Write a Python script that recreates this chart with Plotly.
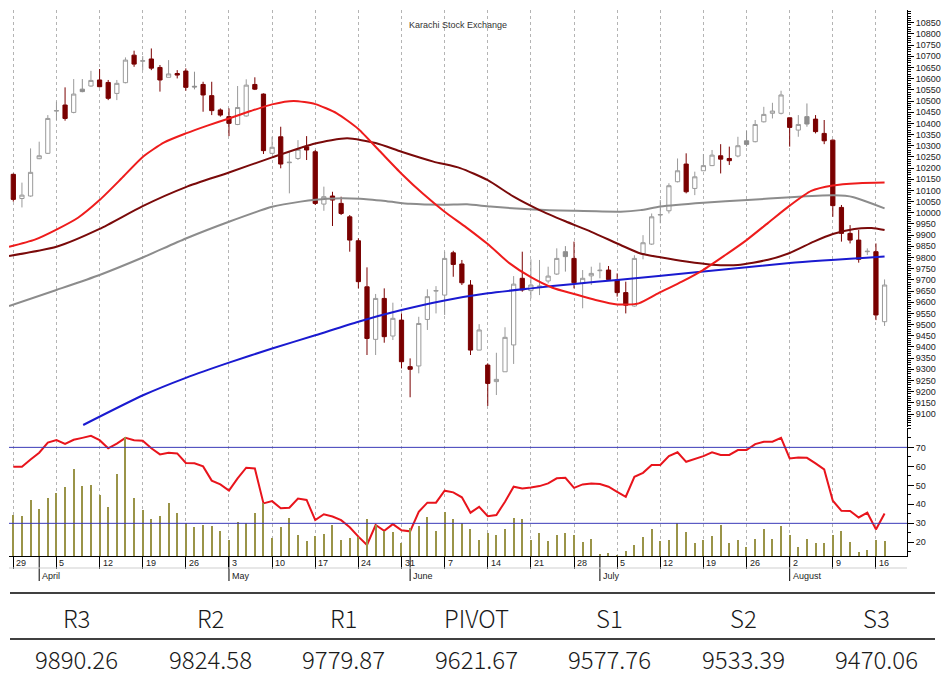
import plotly.graph_objects as go
import pandas as pd

# ---------------- data ----------------
dates = pd.bdate_range("2010-03-29", "2010-08-17")  # 102 trading days

opens = [10172, 10064, 10075, 10242, 10266, 10455, 10482, 10449, 10553, 10567,
         10594, 10583, 10534, 10582, 10705, 10678, 10688, 10650, 10606, 10623,
         10634, 10566, 10574, 10524, 10460, 10430, 10395, 10433, 10574, 10531,
         10266, 10340, 10224, 10243, 10295, 10273, 10039, 10075, 10042, 9982,
         9875, 9669, 9434, 9617, 9449, 9520, 9312, 9315, 9523, 9650,
         9632, 9821, 9771, 9677, 9386, 9319, 9245, 9289, 9409, 9707,
         9652, 9670, 9695, 9726, 9826, 9796, 9684, 9718, 9741, 9744,
         9699, 9643, 9583, 9818, 9860, 9990, 10009, 10139, 10218, 10109,
         10188, 10211, 10255, 10243, 10254, 10322, 10318, 10407, 10445, 10445,
         10425, 10370, 10430, 10419, 10355, 10325, 10024, 9908, 9878, 9826,
         9826, 9513]
highs = [10176, 10135, 10288, 10318, 10437, 10497, 10561, 10598, 10598, 10635,
         10643, 10594, 10594, 10695, 10725, 10701, 10735, 10661, 10683, 10638,
         10646, 10631, 10586, 10586, 10467, 10467, 10567, 10597, 10606, 10534,
         10340, 10385, 10273, 10325, 10343, 10281, 10117, 10094, 10072, 9990,
         9886, 9756, 9637, 9662, 9598, 9550, 9349, 9535, 9658, 9672,
         9826, 9830, 9789, 9699, 9502, 9327, 9374, 9488, 9717, 9826,
         9792, 9789, 9759, 9841, 9851, 9871, 9744, 9759, 9777, 9762,
         9729, 9692, 9810, 9900, 9997, 10057, 10132, 10243, 10266, 10184,
         10263, 10281, 10307, 10296, 10340, 10366, 10415, 10474, 10492, 10546,
         10425, 10437, 10489, 10437, 10415, 10328, 10035, 9945, 9923, 9841,
         9863, 9702]
lows = [10050, 10024, 10072, 10240, 10263, 10415, 10412, 10445, 10539, 10564,
        10561, 10504, 10504, 10579, 10653, 10638, 10638, 10542, 10606, 10601,
        10546, 10552, 10452, 10437, 10430, 10343, 10392, 10430, 10549, 10263,
        10263, 10199, 10087, 10236, 10236, 10035, 10009, 9941, 9990, 9826,
        9662, 9364, 9364, 9419, 9431, 9304, 9175, 9282, 9476, 9550,
        9543, 9714, 9677, 9364, 9386, 9136, 9185, 9289, 9324, 9647,
        9617, 9632, 9684, 9722, 9737, 9662, 9573, 9677, 9707, 9699,
        9625, 9550, 9580, 9792, 9856, 9953, 9997, 10136, 10087, 10079,
        10188, 10209, 10176, 10214, 10248, 10296, 10315, 10404, 10422, 10440,
        10296, 10340, 10385, 10355, 10307, 9982, 9871, 9863, 9777, 9811,
        9520, 9494]
closes = [10060, 10079, 10181, 10255, 10422, 10457, 10422, 10531, 10542, 10592,
          10564, 10512, 10579, 10683, 10665, 10680, 10647, 10594, 10621, 10616,
          10561, 10563, 10527, 10457, 10437, 10400, 10471, 10571, 10553, 10278,
          10293, 10218, 10226, 10284, 10281, 10042, 10072, 10057, 9997, 9878,
          9692, 9438, 9617, 9446, 9528, 9334, 9300, 9505, 9625, 9652,
          9796, 9769, 9687, 9386, 9476, 9237, 9255, 9443, 9681, 9655,
          9677, 9672, 9717, 9796, 9804, 9687, 9707, 9729, 9743, 9702,
          9643, 9587, 9796, 9866, 9982, 9992, 10121, 10188, 10094, 10161,
          10211, 10258, 10240, 10233, 10300, 10306, 10395, 10440, 10455, 10527,
          10382, 10395, 10397, 10363, 10322, 10032, 9908, 9878, 9792, 9828,
          9543, 9677]

volume = [41, 40, 56, 47, 58, 63, 69, 87, 70, 71,
          61, 49, 82, 119, 58, 46, 37, 40, 53, 43,
          33, 29, 31, 30, 25, 16, 34, 33, 43, 53,
          18, 29, 38, 21, 15, 20, 22, 31, 16, 18,
          19, 37, 31, 25, 24, 13, 28, 30, 39, 25,
          44, 37, 33, 27, 16, 23, 21, 27, 38, 37,
          16, 23, 15, 21, 23, 21, 14, 17, 2, 3,
          1, 5, 11, 19, 27, 15, 16, 33, 24, 13,
          16, 20, 31, 13, 16, 9, 17, 27, 17, 30,
          21, 9, 17, 13, 13, 21, 25, 14, 4, 6,
          16, 15]

rsi = [59.8, 59.8, 63.6, 67.2, 72.5, 73.8, 71.8, 74.0, 75.0, 76.1,
       73.8, 69.5, 72.0, 75.0, 73.8, 73.5, 69.5, 66.3, 67.2, 66.8,
       61.8, 61.6, 60.0, 52.5, 50.5, 47.2, 53.7, 59.3, 58.9, 40.5,
       41.7, 37.9, 38.2, 43.1, 42.3, 31.7, 34.8, 33.6, 31.7, 27.9,
       23.0, 18.6, 29.1, 26.1, 29.6, 26.3, 25.8, 36.1, 40.9, 40.9,
       47.2, 46.3, 43.7, 35.6, 38.7, 33.8, 34.4, 41.4, 49.3, 48.4,
       48.9, 49.6, 51.0, 53.7, 54.0, 48.7, 50.5, 51.0, 50.7, 49.3,
       46.6, 44.0, 54.5, 56.6, 60.7, 60.7, 65.4, 67.4, 62.4, 63.7,
       65.4, 67.4, 66.0, 66.0, 68.6, 68.6, 71.7, 73.0, 73.0, 75.0,
       64.2, 64.7, 64.5, 61.6, 58.4, 41.9, 36.6, 36.5, 33.1, 35.6,
       26.8, 35.2]

# moving averages read at sample positions (trading-day index, value)
ma_fast_idx = [-0.5, 2.5, 5, 7.5, 10, 12.5, 15, 17.5, 20, 22.5, 25, 27.5, 30, 32.5,
               35, 37.5, 40, 42.5, 45, 47.5, 50, 52.5, 55, 57.5, 60, 62.5, 65, 67.5,
               70, 72.5, 75, 77.5, 80, 82.5, 85, 87.5, 90, 92.5, 95, 98, 101]
ma_fast_val = [9848, 9880, 9925, 9978, 10057, 10152, 10250, 10315, 10355, 10390,
               10422, 10455, 10485, 10500, 10486, 10445, 10375, 10275, 10175, 10085,
               10005, 9935, 9860, 9775, 9712, 9665, 9637, 9610, 9590, 9595,
               9645, 9692, 9745, 9810, 9878, 9955, 10032, 10098, 10122, 10132, 10135]
ma_mid_idx = [-0.5, 5, 10, 15, 20, 25, 30, 35, 38.7, 42, 45, 48.7, 51.8, 55, 58,
              61, 64, 67, 70.4, 72.7, 75, 78, 81, 84, 87.5, 90, 92.8, 95, 97.5,
              99.5, 101]
ma_mid_val = [9807, 9848, 9928, 10030, 10115, 10180, 10248, 10310, 10333, 10312,
              10273, 10229, 10200, 10146, 10072, 10012, 9962, 9915, 9856, 9818,
              9801, 9782, 9768, 9767, 9790, 9820, 9871, 9905, 9928, 9932, 9923]
ma_slow_idx = [-0.5, 5, 10, 15, 20, 25, 30, 33.3, 36.4, 40.2, 43.3, 46, 49.9, 52.6,
               55.3, 60.3, 64.9, 70.4, 72.7, 75, 80, 85.1, 90.1, 95.1, 97.4, 101]
ma_slow_val = [9583, 9655, 9722, 9800, 9885, 9960, 10027, 10050, 10063, 10063, 10052,
               10040, 10036, 10038, 10028, 10015, 10009, 10005, 10012, 10028, 10045,
               10057, 10070, 10078, 10070, 10020]
ma_long_idx = [8.1, 15.1, 20, 25, 30, 35, 40, 45, 50, 55, 60, 65, 70, 80, 90, 101]
ma_long_val = [9051, 9185, 9262, 9330, 9393, 9452, 9513, 9565, 9608, 9640, 9662,
               9682, 9700, 9737, 9775, 9804]

week_idx = [0, 5, 10, 15, 20, 25, 30, 35, 40, 45, 50, 55, 60, 65, 70, 75, 80, 85, 90, 95, 100]
week_labels = ["29", "5", "12", "19", "26", "3", "10", "17", "24", "31", "7",
               "14", "21", "28", "5", "12", "19", "26", "2", "9", "16"]
month_idx = [3, 25, 46, 68, 90]
month_labels = ["April", "May", "June", "July", "August"]

price_ticks = list(range(9100, 10851, 50))
rsi_ticks = [20, 30, 40, 50, 60, 70]
rsi_levels = [70, 30]

pivot_names = ["R3", "R2", "R1", "PIVOT", "S1", "S2", "S3"]
pivot_values = ["9890.26", "9824.58", "9779.87", "9621.67", "9577.76", "9533.39", "9470.06"]

title_text = "Karachi Stock Exchange"

# ---------------- figure ----------------
W, H = 943, 677
ML, MR, MT, MB = 9, 36, 10, 121
PW = W - ML - MR
PH = H - MT - MB


def py(ypix):  # figure pixel -> paper y
    return (H - MB - ypix) / PH


def px(xpix):
    return (xpix - ML) / PW


n = len(closes)
xi = list(range(n))

up, dark, grey = [], [], []
for i in range(n):
    if closes[i] >= opens[i]:
        up.append(i)
    elif i > 0 and closes[i] >= closes[i - 1]:
        grey.append(i)
    else:
        dark.append(i)

fig = go.Figure()

# volume bars (hidden axis in lower panel)
fig.add_trace(go.Bar(x=xi, y=volume, xaxis="x2", yaxis="y3", width=0.13,
                     marker=dict(color="#9a9448", line=dict(width=0)),
                     hoverinfo="skip"))
# RSI
fig.add_trace(go.Scatter(x=xi, y=rsi, xaxis="x2", yaxis="y2", mode="lines",
                         line=dict(color="#e8141c", width=2)))


def sub(arr, idx):
    return [arr[i] for i in idx]


def candle(idx, fill, line, incfill):
    return go.Candlestick(
        x=idx, open=sub(opens, idx), high=sub(highs, idx), low=sub(lows, idx),
        close=sub(closes, idx), xaxis="x", yaxis="y", whiskerwidth=0,
        increasing=dict(fillcolor=incfill, line=dict(color=line, width=1)),
        decreasing=dict(fillcolor=fill, line=dict(color=line, width=1)),
        hoverinfo="skip")


fig.add_trace(candle(up, "#ffffff", "#9a9a9a", "#ffffff"))
fig.add_trace(candle(grey, "#8e8e8e", "#8e8e8e", "#8e8e8e"))
fig.add_trace(candle(dark, "#7a0000", "#7a0000", "#7a0000"))

for ix, vals, col in [(ma_slow_idx, ma_slow_val, "#8c8c8c"),
                      (ma_long_idx, ma_long_val, "#1a1ad0"),
                      (ma_mid_idx, ma_mid_val, "#7a0a0a"),
                      (ma_fast_idx, ma_fast_val, "#ee1c1c")]:
    fig.add_trace(go.Scatter(x=ix, y=vals, xaxis="x", yaxis="y", mode="lines",
                             line=dict(color=col, width=2, shape="spline", smoothing=0.6),
                             hoverinfo="skip"))

xr = [-0.5, 103.6]
gridstyle = dict(showgrid=True, gridcolor="#b4b4b4", griddash="3px,3px", gridwidth=1)
tickfont = dict(family="Liberation Sans, Arial, sans-serif", size=9, color="#222")

fig.update_layout(
    width=W, height=H, margin=dict(l=ML, r=MR, t=MT, b=MB, autoexpand=False),
    paper_bgcolor="white", plot_bgcolor="white", showlegend=False,
    bargap=0,
    xaxis=dict(domain=[0, 1], anchor="y", range=xr, tickvals=week_idx,
               showticklabels=False, ticks="", zeroline=False, showline=False,
               automargin=False, rangeslider=dict(visible=False), **gridstyle),
    yaxis=dict(domain=[py(427), 1], anchor="x", side="right", range=[9042, 10907],
               tickvals=price_ticks, tickformat="d", ticks="outside", ticklen=6,
               tickcolor="#000", automargin=False,
               minor=dict(dtick=10, tick0=0, ticks="outside", ticklen=3, tickcolor="#000"),
               showline=True, linecolor="#000", linewidth=1, showgrid=False,
               zeroline=False, tickfont=tickfont),
    xaxis2=dict(domain=[0, 1], anchor="y2", range=xr, tickvals=week_idx,
                showticklabels=False, ticks="outside", ticklen=12, tickcolor="#000",
                showline=True, linecolor="#000", linewidth=1, zeroline=False,
                automargin=False, rangeslider=dict(visible=False), **gridstyle),
    yaxis2=dict(domain=[0, py(428)], anchor="x2", side="right", range=[12.8, 80.2],
                tickvals=rsi_ticks, ticks="outside", ticklen=6, tickcolor="#000",
                automargin=False,
                minor=dict(dtick=5, tick0=0, ticks="outside", ticklen=3, tickcolor="#000"),
                showline=True, linecolor="#000", linewidth=1, showgrid=False,
                zeroline=False, tickfont=tickfont),
    yaxis3=dict(overlaying="y2", anchor="x2", range=[0, 128], visible=False),
)

shapes = []
for lv in rsi_levels:
    shapes.append(dict(type="line", xref="paper", yref="y2", x0=0, x1=1, y0=lv, y1=lv,
                       line=dict(color="#3a3ab8", width=1)))
for mi in month_idx:
    shapes.append(dict(type="line", xref="x2", yref="paper", x0=mi, x1=mi,
                       y0=0, y1=py(581), line=dict(color="#000", width=1)))
shapes.append(dict(type="line", xref="paper", yref="paper", x0=0, x1=1,
                   y0=py(568), y1=py(568), line=dict(color="#cfcfcf", width=1)))
for yy in (593, 639):
    shapes.append(dict(type="line", xref="paper", yref="paper", x0=px(10), x1=px(935),
                       y0=py(yy), y1=py(yy), line=dict(color="#000", width=1.5)))
fig.update_layout(shapes=shapes)

ann = []
ann.append(dict(text=title_text, xref="paper", yref="paper", x=px(458), y=py(18),
                showarrow=False, font=dict(family="Liberation Sans, Arial", size=9, color="#333")))
for wi, wl in zip(week_idx, week_labels):
    ann.append(dict(text=wl, xref="x2", yref="paper", x=wi, y=py(562.5), xanchor="left",
                    yanchor="middle", xshift=1, showarrow=False, font=tickfont))
for mi, ml in zip(month_idx, month_labels):
    ann.append(dict(text=ml, xref="x2", yref="paper", x=mi, y=py(576), xanchor="left",
                    yanchor="middle", xshift=1, showarrow=False, font=tickfont))
tfont = dict(family="Noto Sans CJK SC, DejaVu Sans Condensed, sans-serif", size=24,
             weight=300, color="#1a1a1a")
for k, (nm, vl) in enumerate(zip(pivot_names, pivot_values)):
    cx = 76.7 + 133.3 * k
    ann.append(dict(text=nm, xref="paper", yref="paper", x=px(cx), y=py(617),
                    xanchor="center", yanchor="middle", showarrow=False, font=tfont))
    ann.append(dict(text=vl, xref="paper", yref="paper", x=px(cx), y=py(658.5),
                    xanchor="center", yanchor="middle", showarrow=False, font=tfont))
fig.update_layout(annotations=ann)

fig.write_html("out.html", config={"displayModeBar": False},
               post_script="document.body.style.margin='0px';"
                           "document.body.style.overflow='hidden';")
